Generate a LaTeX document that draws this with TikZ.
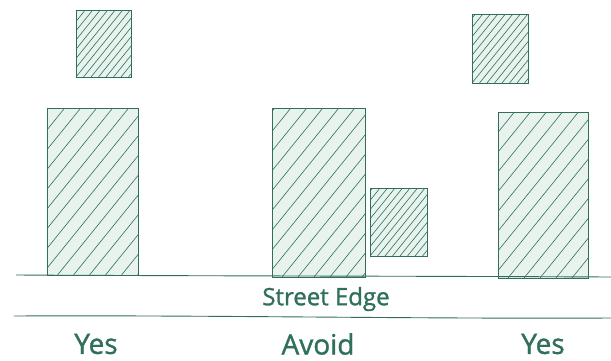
\documentclass[tikz,border=0pt]{standalone}
\usepackage{fontspec}
\setmainfont{Open Sans}
\newfontfamily\handfont{Open Sans}[FakeBold=1.2]
\definecolor{ink}{HTML}{2F6F5C}
\definecolor{mint}{HTML}{E8F3EE}
\begin{document}
\begin{tikzpicture}[x=1pt,y=-1pt,
  bldg/.style={draw=ink, line width=0.9pt, fill=mint, inner sep=0pt,
    path picture={\foreach \i in {0,...,40}
      \draw[ink, line width=0.6pt]
        ([xshift={-150pt+\i*#1}]path picture bounding box.south west) -- ++(51:270pt);}},
  bldg/.default=16pt,
  lbl/.style={text=ink, inner sep=0pt, font=\handfont\fontsize{28}{30}\selectfont},
  street/.style={draw=ink, line width=0.9pt}]
\useasboundingbox (0,0) rectangle (611,360);
% buildings
\node[bldg=7.5pt, minimum width=55pt, minimum height=67pt] (s1) at (103.5,43.5) {};
\node[bldg, minimum width=90.5pt, minimum height=167pt] (b1) at (92.75,191.5) {};
\node[bldg, minimum width=93pt, minimum height=169pt] (b2) at (318.5,192.5) {};
\node[bldg=7.5pt, minimum width=57pt, minimum height=68pt] (s2) at (398.5,222) {};
\node[bldg=7.5pt, minimum width=56pt, minimum height=69pt] (s3) at (500,48.5) {};
\node[bldg, minimum width=90pt, minimum height=166pt] (b3) at (543,195) {};
% street lines
\coordinate (e1) at (16,275);
\coordinate (e2) at (611,277);
\coordinate (f1) at (14,316);
\coordinate (f2) at (611,318);
\draw[street] (e1) .. controls (200,276) and (400,276) .. (e2);
\draw[street] (f1) .. controls (200,315) and (420,319) .. (f2);
% labels
\node[text=ink, inner sep=0pt, font=\handfont\fontsize{24}{26}\selectfont] (se) at (326,299) {Street Edge};
\node[lbl] (y1) at (96,344) {Yes};
\node[lbl] (av) at (318,344) {Avoid};
\node[lbl] (y2) at (543,344) {Yes};
\end{tikzpicture}
\end{document}
